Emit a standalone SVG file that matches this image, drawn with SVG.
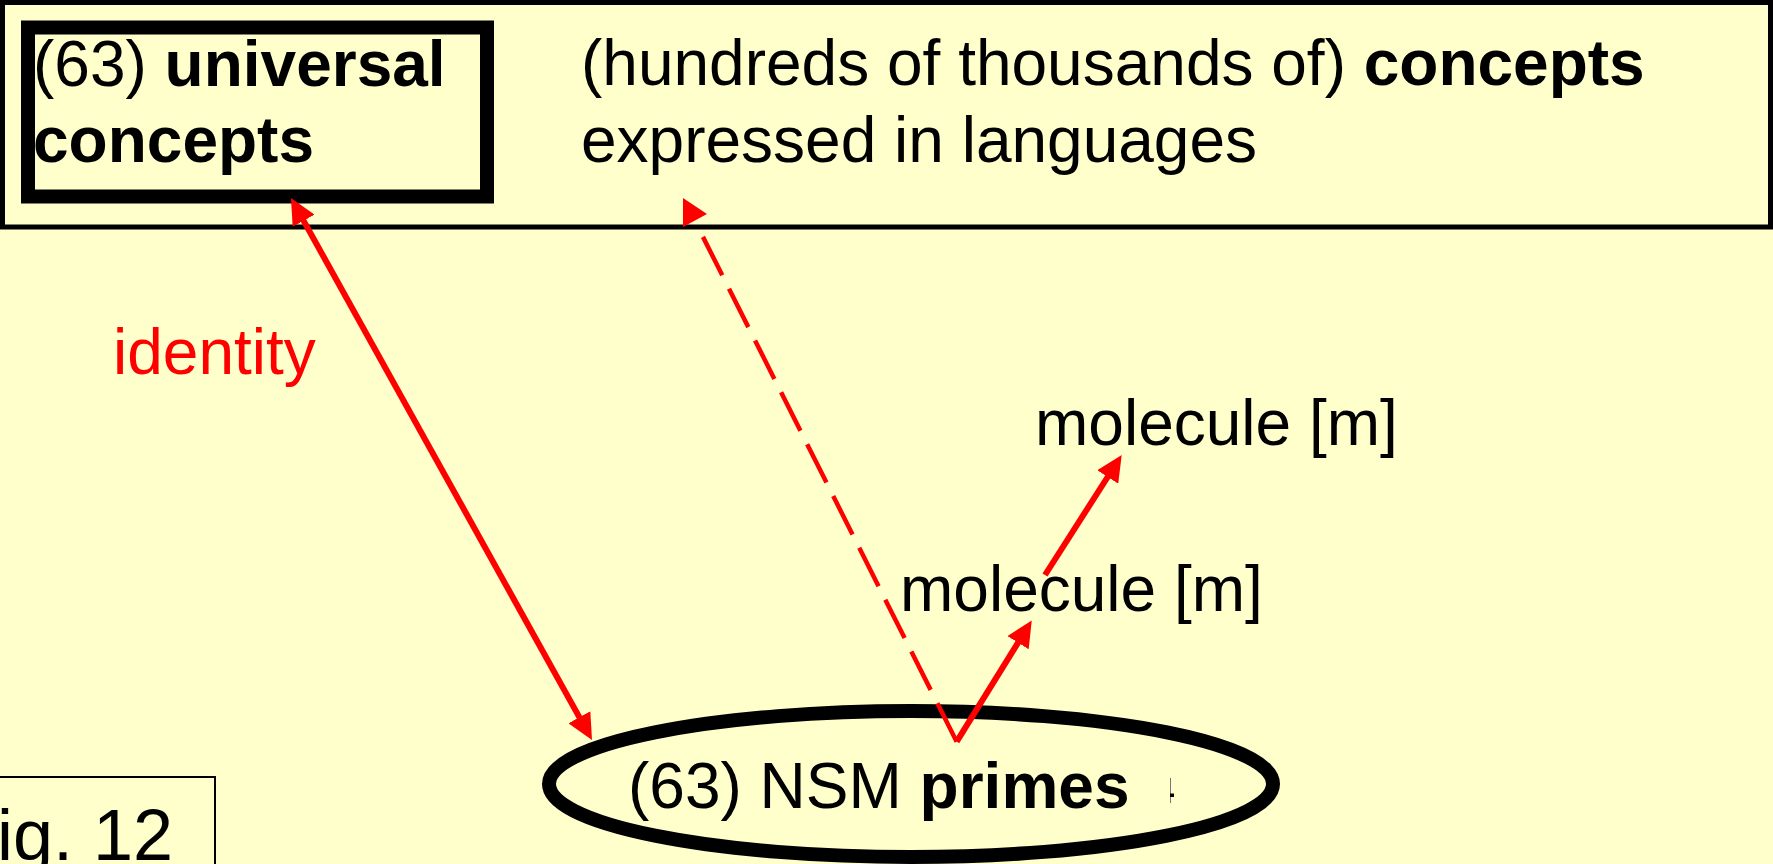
<svg xmlns="http://www.w3.org/2000/svg" width="1773" height="864" viewBox="0 0 1773 864">
  <style>
    text { font-family: "Liberation Sans", Arial, sans-serif; font-size: 64px; fill: #000; }
    .b { font-weight: bold; }
    .red { fill: #FF0000; }
    .frame { fill: #FFFFCC; stroke: #000; }
    .conn { fill: none; stroke: #FF0000; }
  </style>
  <defs>
    <marker id="ah" markerUnits="userSpaceOnUse" markerWidth="26" markerHeight="25" refX="13" refY="12.5" orient="auto-start-reverse" viewBox="0 0 26 25">
      <path d="M0,0 L26,12.5 L0,25 z" fill="#FF0000"/>
    </marker>
  </defs>
  <rect x="0" y="0" width="1773" height="864" fill="#FFFFCC"/>

  <g id="language-concepts">
    <rect class="frame" x="2.5" y="2.5" width="1768" height="224.5" stroke-width="5"/>
    <text x="581" y="85">(hundreds of thousands of) <tspan class="b">concepts</tspan></text>
    <text x="581" y="162">expressed in languages</text>
  </g>

  <g id="universal-concepts">
    <rect class="frame" x="28" y="27.5" width="459" height="169" stroke-width="14"/>
    <text x="33" y="86">(63) <tspan class="b">universal</tspan></text>
    <text x="33" y="162" class="b">concepts</text>
  </g>

  <g id="nsm-primes">
    <ellipse class="frame" cx="911" cy="784" rx="362" ry="73" stroke-width="14"/>
    <text x="628" y="808">(63) NSM <tspan class="b">primes</tspan></text>
    <line x1="1170.5" y1="778" x2="1170.5" y2="803" stroke="#777" stroke-width="1"/>
    <rect x="1170" y="793.5" width="4" height="3.5" fill="#000"/>
  </g>

  <g id="molecule-1">
    <text x="900" y="611">molecule [m]</text>
  </g>

  <g id="molecule-2">
    <text x="1035" y="445">molecule [m]</text>
  </g>

  <g id="fig-label">
    <rect x="-20" y="777" width="235" height="120" fill="none" stroke="#000" stroke-width="2"/>
    <text x="-47" y="860" style="font-size:72px">Fig. 12</text>
  </g>

  <g id="identity-label">
    <text x="113" y="374" class="red">identity</text>
  </g>

  <g id="connectors">
    <line class="conn" x1="297.3" y1="209.4" x2="585.7" y2="728.6" stroke-width="6" marker-start="url(#ah)" marker-end="url(#ah)"/>
    <line class="conn" x1="956.7" y1="741.7" x2="700" y2="231" stroke-width="4.5" stroke-dasharray="43 15"/>
    <polygon points="683,198 707,214 683,227" fill="#FF0000"/>
    <line class="conn" x1="956.7" y1="741.7" x2="1024.9" y2="631.6" stroke-width="6" marker-end="url(#ah)"/>
    <line class="conn" x1="1045" y1="575" x2="1114.7" y2="466" stroke-width="6" marker-end="url(#ah)"/>
  </g>
</svg>
